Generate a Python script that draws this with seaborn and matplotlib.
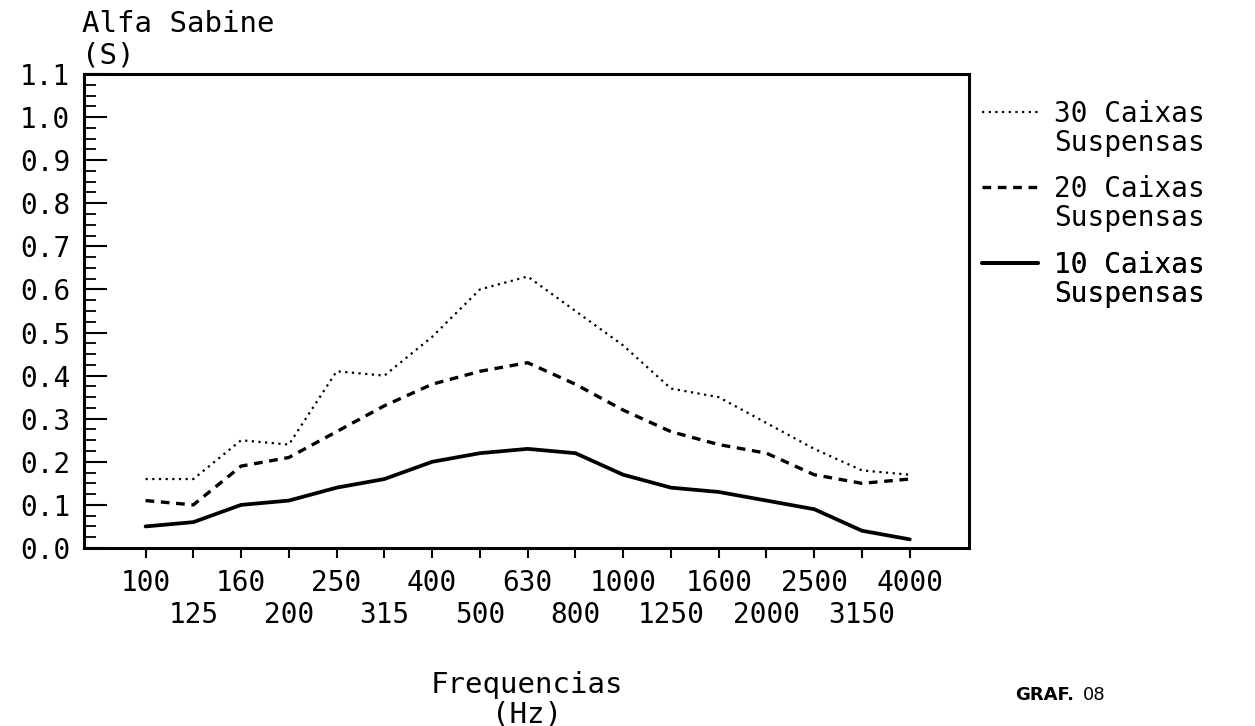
import pandas as pd
import seaborn as sns
import matplotlib.pyplot as plt
from matplotlib.ticker import MultipleLocator, FormatStrFormatter
from matplotlib.lines import Line2D

# third-octave bands (Hz)
freqs = ['100', '125', '160', '200', '250', '315', '400', '500', '630',
         '800', '1000', '1250', '1600', '2000', '2500', '3150', '4000']

# alfa sabine per band
caixas_30 = [0.16, 0.16, 0.25, 0.24, 0.41, 0.40, 0.49, 0.60, 0.63,
             0.55, 0.47, 0.37, 0.35, 0.29, 0.23, 0.18, 0.17]
caixas_20 = [0.11, 0.10, 0.19, 0.21, 0.27, 0.33, 0.38, 0.41, 0.43,
             0.38, 0.32, 0.27, 0.24, 0.22, 0.17, 0.15, 0.16]
caixas_10 = [0.05, 0.06, 0.10, 0.11, 0.14, 0.16, 0.20, 0.22, 0.23,
             0.22, 0.17, 0.14, 0.13, 0.11, 0.09, 0.04, 0.02]

series_names = ['30 Caixas', '20 Caixas', '10 Caixas']

sns.set_theme(style='white')
plt.rcParams['font.family'] = ['DejaVu Sans Mono', 'DejaVu Sans']
plt.rcParams['text.color'] = 'black'
plt.rcParams['xtick.color'] = 'black'
plt.rcParams['ytick.color'] = 'black'

df = pd.DataFrame({'freq': freqs, 'c30': caixas_30, 'c20': caixas_20, 'c10': caixas_10})

styles = {
    'c30': dict(linewidth=1.6, linestyle=(0, (1, 2))),
    'c20': dict(linewidth=2.4, linestyle=(0, (2.6, 2))),
    'c10': dict(linewidth=2.7, linestyle='-'),
}

fig = plt.figure(figsize=(12.55, 7.26), dpi=100)
ax = fig.add_axes([0.0669, 0.2452, 0.7052, 0.6529])

for col in ['c30', 'c20', 'c10']:
    sns.lineplot(data=df, x='freq', y=col, ax=ax, color='black', **styles[col])

ax.set_xlim(-1.29, 17.24)
ax.set_ylim(0, 1.1)
ax.yaxis.set_major_locator(MultipleLocator(0.1))
ax.yaxis.set_minor_locator(MultipleLocator(0.025))
ax.yaxis.set_major_formatter(FormatStrFormatter('%.1f'))

# two staggered rows of frequency labels
pos = list(range(len(freqs)))
ax.set_xticks(pos[0::2])
ax.set_xticklabels(freqs[0::2], fontsize=20)
ax.set_xticks(pos[1::2], minor=True)
ax.set_xticklabels(freqs[1::2], minor=True, fontsize=20)
for lbl in ax.get_yticklabels():
    lbl.set_fontsize(20)

ax.tick_params(axis='y', which='major', direction='in', length=16.5, width=1.5,
               pad=10, left=True)
ax.tick_params(axis='y', which='minor', direction='in', length=8.5, width=1.3,
               left=True)
ax.tick_params(axis='x', which='major', direction='out', length=7.2, width=1.5,
               pad=8, bottom=True)
ax.tick_params(axis='x', which='minor', direction='out', length=7.2, width=1.5,
               pad=31, bottom=True)
ax.set_xlabel('')
ax.set_ylabel('')
for sp in ax.spines.values():
    sp.set_color('black')
    sp.set_linewidth(2.2)

fig.text(82 / 1255, 1 - 40 / 726, 'Alfa Sabine\n(S)', ha='left', va='center',
         fontsize=21, linespacing=1.15)
fig.text(527 / 1255, 1 - 700 / 726, 'Frequencias\n(Hz)', ha='center', va='center',
         fontsize=21, linespacing=1.05)
fig.text(1015 / 1255, 1 - 695 / 726, 'GRAF.', ha='left', va='center',
         fontsize=13, fontweight='bold', family='DejaVu Sans')
fig.text(1083 / 1255, 1 - 695 / 726, '08', ha='left', va='center',
         fontsize=13, family='DejaVu Sans')

# one small legend per series so the handle sits on the first text line
blank = Line2D([], [], linestyle='none')
tops = [100, 175, 251]
for col, name, top in zip(['c30', 'c20', 'c10'], series_names, tops):
    h = Line2D([], [], color='black', **styles[col])
    leg = ax.legend([h, blank], [name, 'Suspensas'], loc='upper left',
                    bbox_to_anchor=(982 / 1255, 1 - top / 726),
                    bbox_transform=fig.transFigure, frameon=False, fontsize=20,
                    handlelength=2.0, handletextpad=0.6, labelspacing=0.02,
                    borderaxespad=0, borderpad=0)
    ax.add_artist(leg)

fig.savefig('out.png', dpi=100, facecolor='white')
